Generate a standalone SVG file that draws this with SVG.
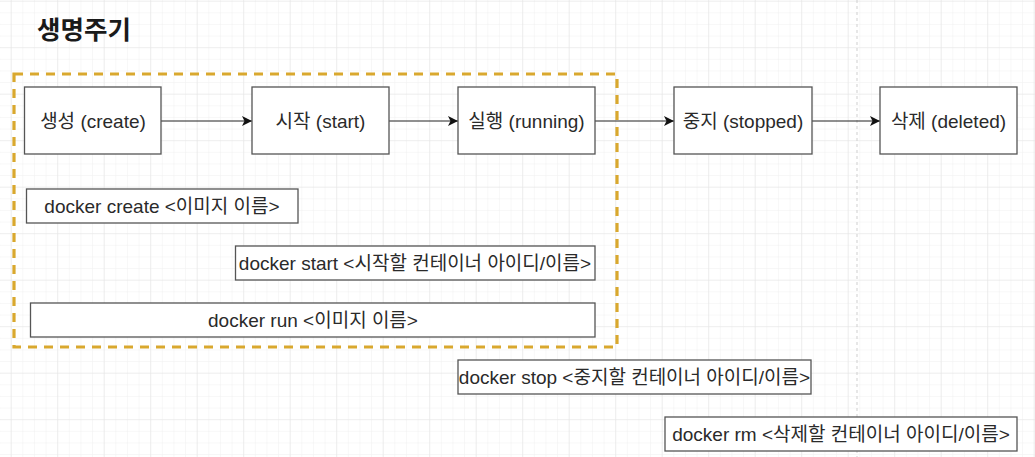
<svg xmlns="http://www.w3.org/2000/svg" width="1035" height="457" viewBox="0 0 1035 457">
  <defs>
    <pattern id="minor" x="10.7" y="0.7" width="11.625" height="11.625" patternUnits="userSpaceOnUse">
      <path d="M0 0H11.625M0 0V11.625" fill="none" stroke="#f0f0f0" stroke-width="1"/>
    </pattern>
    <pattern id="major" x="10.7" y="0.7" width="46.5" height="46.5" patternUnits="userSpaceOnUse">
      <path d="M0 0H46.5M0 0V46.5" fill="none" stroke="#e6e6e6" stroke-width="1.2"/>
    </pattern>
    <marker id="arrow" viewBox="0 0 10 10" refX="10" refY="5" markerWidth="10" markerHeight="10" markerUnits="userSpaceOnUse" orient="auto">
      <path d="M0 0L10 5L0 10L2.5 5Z" fill="#111"/>
    </marker>
    <style>
      .node rect { fill: #ffffff; stroke: #555555; stroke-width: 1.3; }
      .lbl { font-family: "Liberation Sans", "Noto Sans CJK KR", sans-serif; font-size: 19px; fill: #2a2a2a; text-anchor: middle; }
      .edge { stroke: #222; stroke-width: 1.2; fill: none; marker-end: url(#arrow); }
    </style>
  </defs>
  <rect width="1035" height="457" fill="#ffffff"/>
  <rect width="1035" height="457" fill="url(#minor)"/>
  <rect width="1035" height="457" fill="url(#major)"/>
  <line x1="857" y1="0" x2="857" y2="457" stroke="#cfcfcf" stroke-width="1" stroke-dasharray="3 3"/>

  <text x="37" y="39" font-family="'Noto Sans CJK KR', sans-serif" font-weight="bold" font-size="25.5" fill="#1a1a1a">생명주기</text>

  <rect id="group-boundary" x="14" y="74" width="603" height="273" fill="none" stroke="#d9a82e" stroke-width="3.2" stroke-dasharray="9 7"/>

  <g id="connectors">
    <line class="edge" x1="161" y1="121" x2="252" y2="121"/>
    <line class="edge" x1="389" y1="121" x2="458" y2="121"/>
    <line class="edge" x1="595" y1="121" x2="674" y2="121"/>
    <line class="edge" x1="812" y1="121" x2="880" y2="121"/>
  </g>

  <g id="create" class="node"><rect x="24.5" y="87" width="136.5" height="67"/><text class="lbl" x="93" y="128">생성 (create)</text></g>
  <g id="start" class="node"><rect x="252" y="87" width="137" height="67"/><text class="lbl" x="320.5" y="128">시작 (start)</text></g>
  <g id="running" class="node"><rect x="458" y="87" width="137" height="67"/><text class="lbl" x="526.5" y="128">실행 (running)</text></g>
  <g id="stopped" class="node"><rect x="674" y="87" width="138" height="67"/><text class="lbl" x="743" y="128">중지 (stopped)</text></g>
  <g id="deleted" class="node"><rect x="880" y="87" width="137" height="67"/><text class="lbl" x="948.5" y="128">삭제 (deleted)</text></g>

  <g id="cmd-create" class="node"><rect x="26.5" y="189" width="271.5" height="34"/><text class="lbl" x="162" y="212.5">docker create &lt;이미지 이름&gt;</text></g>
  <g id="cmd-start" class="node"><rect x="235.5" y="246" width="359.5" height="34"/><text class="lbl" x="415" y="269.5">docker start &lt;시작할 컨테이너 아이디/이름&gt;</text></g>
  <g id="cmd-run" class="node"><rect x="30.5" y="303" width="564.5" height="34"/><text class="lbl" x="313" y="326.5">docker run &lt;이미지 이름&gt;</text></g>
  <g id="cmd-stop" class="node"><rect x="458" y="360" width="353" height="34"/><text class="lbl" x="634.5" y="383.5">docker stop &lt;중지할 컨테이너 아이디/이름&gt;</text></g>
  <g id="cmd-rm" class="node"><rect x="665" y="417" width="352" height="34"/><text class="lbl" x="841" y="440.5">docker rm &lt;삭제할 컨테이너 아이디/이름&gt;</text></g>
</svg>
